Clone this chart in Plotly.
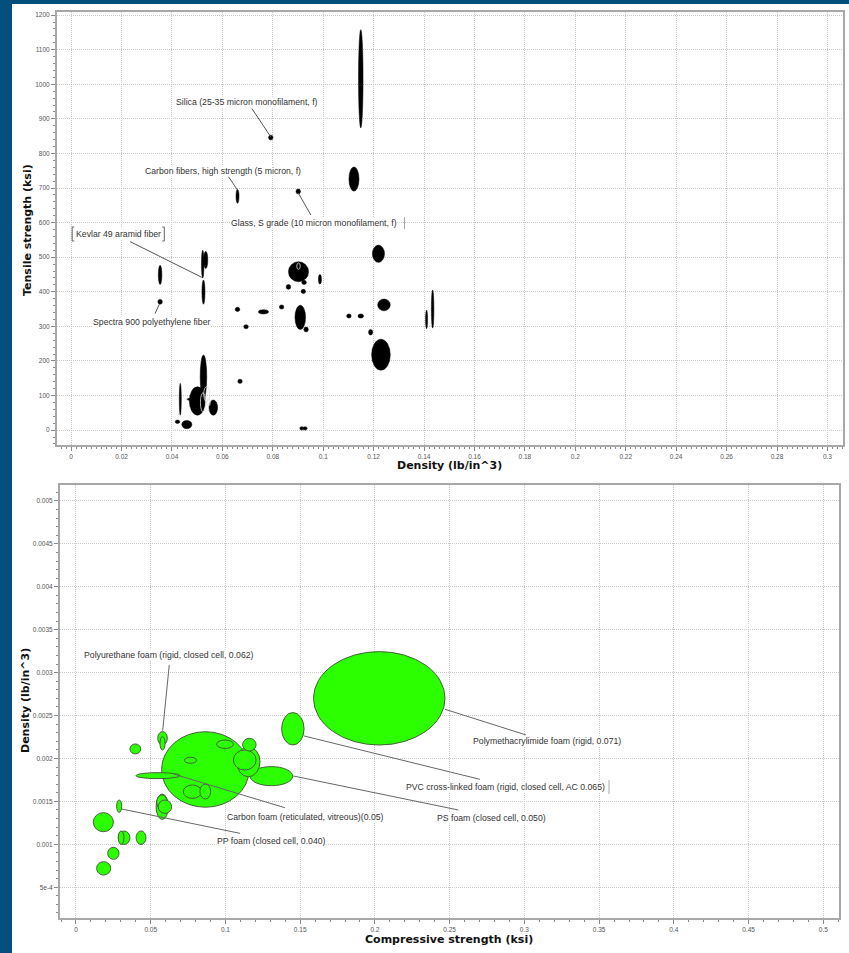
import plotly.graph_objects as go

W, H = 849, 953


def px(x):
    return x / W


def py(y):
    return 1 - y / H


# ---------------- Top chart: fibres (density vs tensile strength) ----------------
fiber_density = [0.1149, 0.0792, 0.1122, 0.0660, 0.0901, 0.0353, 0.0353, 0.0522, 0.0534, 0.0525,
                 0.0902, 0.0924, 0.0921, 0.0862, 0.0987, 0.0660, 0.0763, 0.0835, 0.0694, 0.0909,
                 0.0932, 0.1102, 0.1149, 0.1188, 0.1219, 0.1241, 0.1229, 0.1410, 0.1434, 0.0915,
                 0.0928, 0.0670, 0.0525, 0.0501, 0.0433, 0.0564, 0.0472, 0.0422, 0.0459]
fiber_strength = [1016, 846, 726, 676, 690, 449, 371, 480, 492, 399,
                  458, 427, 401, 414, 436, 349, 342, 356, 299, 326,
                  291, 330, 330, 283, 510, 362, 218, 320, 350, 5,
                  5, 141, 154, 84, 89, 65, 89, 24, 16]
fiber_density_span = [0.0009, 0.0009, 0.0020, 0.0006, 0.0009, 0.0007, 0.0009, 0.0005, 0.0008, 0.0006,
                      0.0040, 0.0009, 0.0009, 0.0009, 0.0006, 0.0009, 0.0020, 0.0009, 0.0009, 0.0021,
                      0.0009, 0.0009, 0.0011, 0.0008, 0.0024, 0.0025, 0.0037, 0.0004, 0.0005, 0.0008,
                      0.0008, 0.0009, 0.0013, 0.0032, 0.0004, 0.0017, 0.0012, 0.0009, 0.0020]
fiber_strength_span = [142, 7, 35, 20, 7, 28, 7, 40, 25, 35,
                       29, 6, 6, 7, 14, 6, 6, 6, 6, 35,
                       7, 6, 6, 8, 25, 17, 45, 27, 55, 5,
                       5, 6, 63, 41, 46, 22, 3, 5, 12]
# white outlined ranges drawn over filled ones
fiber_overlay_density = [0.0902, 0.0538, 0.0523, 0.0545]
fiber_overlay_strength = [474, 104, 80, 80]
fiber_overlay_density_span = [0.0007, 0.0012, 0.0010, 0.0007]
fiber_overlay_strength_span = [9, 22, 28, 10]

fiber_labels = ["Silica (25-35 micron monofilament, f)",
                "Carbon fibers, high strength (5 micron, f)",
                "Glass, S grade (10 micron monofilament, f)",
                "Kevlar 49 aramid fiber",
                "Spectra 900 polyethylene fiber"]
fiber_label_x = [0.0698, 0.0603, 0.0964, 0.0186, 0.0320]
fiber_label_y = [949, 749, 600, 568, 313]
fiber_leader_from = [(0.0717, 930), (0.0624, 733), (0.0901, 686), (0.0234, 545), (0.0333, 337)]
fiber_leader_to = [(0.0792, 848), (0.0660, 694), (0.0951, 622), (0.0518, 442), (0.0350, 364)]

# ---------------- Bottom chart: foams (compressive strength vs density) ----------------
foam_strength = [0.2029, 0.1451, 0.0866, 0.1307, 0.1153, 0.1129, 0.1160, 0.0997, 0.0766, 0.0779,
                 0.0865, 0.0549, 0.0579, 0.0579, 0.0397, 0.0577, 0.0575, 0.0595, 0.0289, 0.0183,
                 0.0322, 0.0302, 0.0435, 0.0250, 0.0185]
foam_density = [0.002701, 0.002346, 0.001872, 0.001794, 0.001962, 0.001982, 0.002161, 0.002166, 0.001979, 0.001613,
                0.001615, 0.001800, 0.002235, 0.002177, 0.002111, 0.001438, 0.001490, 0.001438, 0.001444, 0.001258,
                0.001077, 0.001077, 0.001077, 0.000895, 0.000720]
foam_strength_span = [0.0440, 0.0075, 0.0293, 0.0143, 0.0078, 0.0076, 0.0045, 0.0056, 0.0041, 0.0061,
                      0.0036, 0.0147, 0.0032, 0.0017, 0.0036, 0.0041, 0.0035, 0.0045, 0.0017, 0.0067,
                      0.0039, 0.0019, 0.0033, 0.0038, 0.0047]
foam_density_span = [0.000544, 0.000189, 0.000440, 0.000111, 0.000175, 0.000117, 0.000074, 0.000049, 0.000035, 0.000078,
                     0.000087, 0.000035, 0.000078, 0.000078, 0.000058, 0.000148, 0.000085, 0.000078, 0.000072, 0.000111,
                     0.000078, 0.000078, 0.000078, 0.000070, 0.000078]

foam_labels = ["Polyurethane foam (rigid, closed cell, 0.062)",
               "Carbon foam (reticulated, vitreous)(0.05)",
               "PP foam (closed cell, 0.040)",
               "PVC cross-linked foam (rigid, closed cell, AC 0.065)",
               "PS foam (closed cell, 0.050)",
               "Polymethacrylimide foam (rigid, 0.071)"]
foam_label_x = [0.0624, 0.1536, 0.1309, 0.2874, 0.2783, 0.3151]
foam_label_y = [0.003206, 0.001322, 0.001038, 0.001671, 0.001310, 0.002204]
foam_leader_from = [(0.0624, 0.003089), (0.0651, 0.001819), (0.0306, 0.001411),
                    (0.1526, 0.002262), (0.1454, 0.001796), (0.2469, 0.002573)]
foam_leader_to = [(0.0580, 0.002324), (0.1398, 0.001426), (0.1097, 0.001128),
                  (0.2703, 0.001757), (0.2558, 0.001400), (0.3011, 0.002274)]

top_x_ticks = [round(0.02 * i, 2) for i in range(16)]
top_y_ticks = list(range(0, 1201, 100))
bottom_x_ticks = [round(0.05 * i, 2) for i in range(11)]
bottom_y_ticks = [0.0005, 0.001, 0.0015, 0.002, 0.0025, 0.003, 0.0035, 0.004, 0.0045, 0.005]
bottom_y_ticktext = ["5e-4", "0.001", "0.0015", "0.002", "0.0025", "0.003", "0.0035", "0.004", "0.0045", "0.005"]

# ---------------- figure ----------------
BLUE = "#024e7c"
GREEN = "#2bff00"
GREEN_EDGE = "#44603a"
LABEL_FONT = dict(family="Liberation Sans", size=8.7, color="#333333")
TICK_FONT = dict(family="Liberation Sans", size=6.5, color="#555555")
TITLE_FONT = dict(family="DejaVu Sans", size=11, color="#111111")

fig = go.Figure()
fig.add_trace(go.Scatter(x=fiber_density, y=fiber_strength, mode="markers",
                         marker=dict(size=1, opacity=0), hoverinfo="skip",
                         showlegend=False, xaxis="x", yaxis="y"))
fig.add_trace(go.Scatter(x=foam_strength, y=foam_density, mode="markers",
                         marker=dict(size=1, opacity=0), hoverinfo="skip",
                         showlegend=False, xaxis="x2", yaxis="y2"))

shapes = [dict(type="rect", xref="paper", yref="paper", x0=px(12), x1=1, y0=0, y1=py(4),
               fillcolor="white", line=dict(width=0), layer="below")]

for cx, cy, rx, ry in zip(fiber_density, fiber_strength, fiber_density_span, fiber_strength_span):
    shapes.append(dict(type="circle", xref="x", yref="y", x0=cx - rx, x1=cx + rx,
                       y0=cy - ry, y1=cy + ry, fillcolor="black",
                       line=dict(color="black", width=0.5), layer="above"))
for cx, cy, rx, ry in zip(fiber_overlay_density, fiber_overlay_strength,
                          fiber_overlay_density_span, fiber_overlay_strength_span):
    shapes.append(dict(type="circle", xref="x", yref="y", x0=cx - rx, x1=cx + rx,
                       y0=cy - ry, y1=cy + ry, fillcolor="rgba(0,0,0,0)",
                       line=dict(color="#dddddd", width=0.8), layer="above"))
for (x0, y0), (x1, y1) in zip(fiber_leader_from, fiber_leader_to):
    shapes.append(dict(type="line", xref="x", yref="y", x0=x0, y0=y0, x1=x1, y1=y1,
                       line=dict(color="#555555", width=1), layer="above"))

for cx, cy, rx, ry in zip(foam_strength, foam_density, foam_strength_span, foam_density_span):
    shapes.append(dict(type="circle", xref="x2", yref="y2", x0=cx - rx, x1=cx + rx,
                       y0=cy - ry, y1=cy + ry, fillcolor=GREEN,
                       line=dict(color=GREEN_EDGE, width=1), layer="above"))
for (x0, y0), (x1, y1) in zip(foam_leader_from, foam_leader_to):
    shapes.append(dict(type="line", xref="x2", yref="y2", x0=x0, y0=y0, x1=x1, y1=y1,
                       line=dict(color="#666666", width=1), layer="above"))

# selection marks around Kevlar label and small bars next to labels
for bx, d in [(72.2, 1), (164.3, -1)]:
    shapes.append(dict(type="line", xref="paper", yref="paper", x0=px(bx), x1=px(bx),
                       y0=py(227), y1=py(241), line=dict(color="#666666", width=1)))
    for by in (227, 241):
        shapes.append(dict(type="line", xref="paper", yref="paper", x0=px(bx), x1=px(bx + 2 * d),
                           y0=py(by), y1=py(by), line=dict(color="#666666", width=1)))
shapes.append(dict(type="line", xref="paper", yref="paper", x0=px(404.5), x1=px(404.5),
                   y0=py(217), y1=py(229), line=dict(color="#aaaaaa", width=1)))
shapes.append(dict(type="line", xref="paper", yref="paper", x0=px(609), x1=px(609),
                   y0=py(780), y1=py(794), line=dict(color="#aaaaaa", width=1)))

annotations = []
for t, x, y in zip(fiber_labels, fiber_label_x, fiber_label_y):
    annotations.append(dict(text=t, x=x, y=y, xref="x", yref="y", showarrow=False,
                            font=LABEL_FONT, bgcolor="white", borderpad=0))
for t, x, y in zip(foam_labels, foam_label_x, foam_label_y):
    annotations.append(dict(text=t, x=x, y=y, xref="x2", yref="y2", showarrow=False,
                            font=LABEL_FONT, bgcolor="white", borderpad=0))

annotations += [
    dict(text="<b>Density (lb/in^3)</b>", x=px(449), y=py(466), xref="paper", yref="paper",
         showarrow=False, font=TITLE_FONT, xanchor="center", yanchor="middle"),
    dict(text="<b>Tensile strength (ksi)</b>", x=px(27), y=py(230), xref="paper", yref="paper",
         showarrow=False, font=TITLE_FONT, textangle=-90, xanchor="center", yanchor="middle"),
    dict(text="<b>Compressive strength (ksi)</b>", x=px(449), y=py(939), xref="paper", yref="paper",
         showarrow=False, font=TITLE_FONT, xanchor="center", yanchor="middle"),
    dict(text="<b>Density (lb/in^3)</b>", x=px(25), y=py(701), xref="paper", yref="paper",
         showarrow=False, font=TITLE_FONT, textangle=-90, xanchor="center", yanchor="middle"),
]

axis_common = dict(showline=True, linecolor="#a8a8a8", linewidth=2, mirror=True,
                   showgrid=True, gridcolor="#c8c8c8", griddash="1px,1px", gridwidth=1,
                   zeroline=False, ticks="outside", ticklen=4, tickcolor="#888888",
                   tickfont=TICK_FONT)

fig.update_layout(
    width=W, height=H,
    margin=dict(l=0, r=0, t=0, b=0),
    paper_bgcolor=BLUE,
    plot_bgcolor="white",
    showlegend=False,
    shapes=shapes,
    annotations=annotations,
    xaxis=dict(domain=[px(57), px(843.3)], range=[-0.0056, 0.3063], anchor="y",
               tickmode="array", tickvals=top_x_ticks,
               minor=dict(dtick=0.002, tick0=0, ticks="outside", ticklen=2,
                          tickcolor="#888888", showgrid=False),
               **axis_common),
    yaxis=dict(domain=[py(445.3), py(11.7)], range=[-44, 1210], anchor="x",
               tickmode="array", tickvals=top_y_ticks,
               minor=dict(dtick=20, tick0=0, ticks="outside", ticklen=2,
                          tickcolor="#888888", showgrid=False),
               **axis_common),
    xaxis2=dict(domain=[px(60), px(839)], range=[-0.0107, 0.5105], anchor="y2",
                tickmode="array", tickvals=bottom_x_ticks,
                minor=dict(dtick=0.01, tick0=0, ticks="outside", ticklen=2,
                           tickcolor="#888888", showgrid=False),
                **axis_common),
    yaxis2=dict(domain=[py(918.3), py(485)], range=[0.000138, 0.005186], anchor="x2",
                tickmode="array", tickvals=bottom_y_ticks, ticktext=bottom_y_ticktext,
                minor=dict(dtick=0.0001, tick0=0, ticks="outside", ticklen=2,
                           tickcolor="#888888", showgrid=False),
                **axis_common),
)

fig.write_html("out.html", config={"displayModeBar": False},
               post_script="document.body.style.margin='0';document.body.style.padding='0';"
                           "document.body.style.overflow='hidden';")
